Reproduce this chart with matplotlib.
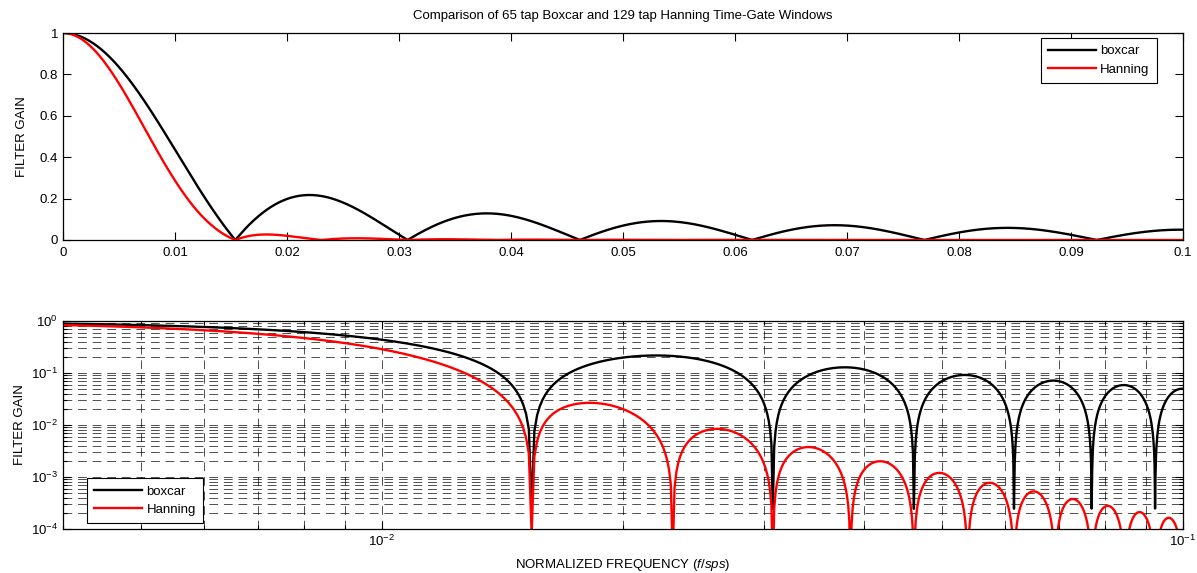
import numpy as np
import matplotlib
matplotlib.use("Agg")
import matplotlib.pyplot as plt
from matplotlib.ticker import LogLocator, NullFormatter, FixedLocator, FormatStrFormatter

plt.rcParams['font.family'] = ['Liberation Sans', 'DejaVu Sans']
plt.rcParams['mathtext.fontset'] = 'custom'
plt.rcParams['mathtext.rm'] = 'Liberation Sans'
plt.rcParams['mathtext.it'] = 'Liberation Sans:italic'
plt.rcParams['axes.unicode_minus'] = False

# ---- data: the two time-gate windows named in the title ----
title = "Comparison of 65 tap Boxcar and 129 tap Hanning Time-Gate Windows"
boxcar_taps = 65
hanning_taps = 129
series_names = ["boxcar", "Hanning"]
series_colors = ["black", "red"]
top_xticks = [0, 0.01, 0.02, 0.03, 0.04, 0.05, 0.06, 0.07, 0.08, 0.09, 0.1]
top_yticks = [0, 0.2, 0.4, 0.6, 0.8, 1]
n_fft = 8192

boxcar_window = np.ones(boxcar_taps)
k = np.arange(1, hanning_taps + 1)
hanning_window = 0.5 * (1 - np.cos(2 * np.pi * k / (hanning_taps + 1)))  # MATLAB hanning()

freq = np.arange(n_fft // 2 + 1) / n_fft
gain_boxcar = np.abs(np.fft.rfft(boxcar_window, n_fft)) / boxcar_window.sum()
gain_hanning = np.abs(np.fft.rfft(hanning_window, n_fft)) / hanning_window.sum()

fig = plt.figure(figsize=(11.97, 5.73), dpi=100)
W, H = 1197, 573
ax1 = fig.add_axes([63 / W, 1 - 240 / H, (1183 - 63) / W, (240 - 33) / H])
ax2 = fig.add_axes([63 / W, 1 - 529 / H, (1183 - 63) / W, (529 - 321) / H])

fs = 9.5
leg_kw = dict(fontsize=fs, fancybox=False, edgecolor="black", framealpha=1,
              borderaxespad=0, handlelength=3.6, borderpad=0.55,
              labelspacing=0.45, handletextpad=0.35)

m1 = freq <= 0.1
for g, name, c in zip([gain_boxcar, gain_hanning], series_names, series_colors):
    ax1.plot(freq[m1], g[m1], color=c, lw=1.7, label=name)
ax1.set_xlim(0, 0.1)
ax1.set_ylim(0, 1)
ax1.xaxis.set_major_locator(FixedLocator(top_xticks))
ax1.yaxis.set_major_locator(FixedLocator(top_yticks))
ax1.xaxis.set_major_formatter(FormatStrFormatter("%g"))
ax1.yaxis.set_major_formatter(FormatStrFormatter("%g"))
ax1.set_ylabel("FILTER GAIN", fontsize=fs)
ax1.yaxis.set_label_coords(-0.031, 0.5)
ax1.set_title(title, fontsize=fs, pad=10)
leg1 = ax1.legend(loc="upper right", bbox_to_anchor=(1157 / W, 1 - 38 / H),
                  bbox_transform=fig.transFigure, **leg_kw)
leg1.get_frame().set_linewidth(0.8)

m2 = freq >= 0.0039
for g, name, c in zip([gain_boxcar, gain_hanning], series_names, series_colors):
    ax2.loglog(freq[m2], np.maximum(g[m2], 1e-6), color=c, lw=1.7, label=name)
ax2.set_xlim(0.004, 0.1)
ax2.set_ylim(1e-4, 1)
ax2.yaxis.set_major_locator(LogLocator(base=10, numticks=10))
ax2.yaxis.set_minor_locator(LogLocator(base=10, subs=np.arange(2, 10), numticks=20))
ax2.xaxis.set_major_locator(LogLocator(base=10, numticks=10))
ax2.xaxis.set_minor_locator(LogLocator(base=10, subs=np.arange(2, 10), numticks=20))
ax2.xaxis.set_minor_formatter(NullFormatter())
ax2.yaxis.set_minor_formatter(NullFormatter())
ax2.grid(True, which="both", linestyle=(0, (10.5, 7)), color="black", lw=0.6, alpha=0.8)
ax2.set_axisbelow(True)
ax2.set_ylabel("FILTER GAIN", fontsize=fs)
ax2.yaxis.set_label_coords(-0.033, 0.5)
ax2.set_xlabel("NORMALIZED FREQUENCY ($\\it{f/sps}$)", fontsize=fs, labelpad=6)
leg2 = ax2.legend(loc="lower left", bbox_to_anchor=(87 / W, 1 - 523 / H),
                  bbox_transform=fig.transFigure, **leg_kw)
leg2.get_frame().set_linewidth(0.8)

for ax in (ax1, ax2):
    ax.tick_params(which="both", direction="in", top=True, right=True, labelsize=fs,
                   width=0.8, color="black")
    ax.tick_params(which="major", length=6)
    ax.tick_params(which="minor", length=3)
    for s in ax.spines.values():
        s.set_linewidth(0.9)
ax1.tick_params(axis="x", pad=5)

fig.savefig("out.png", dpi=100)
